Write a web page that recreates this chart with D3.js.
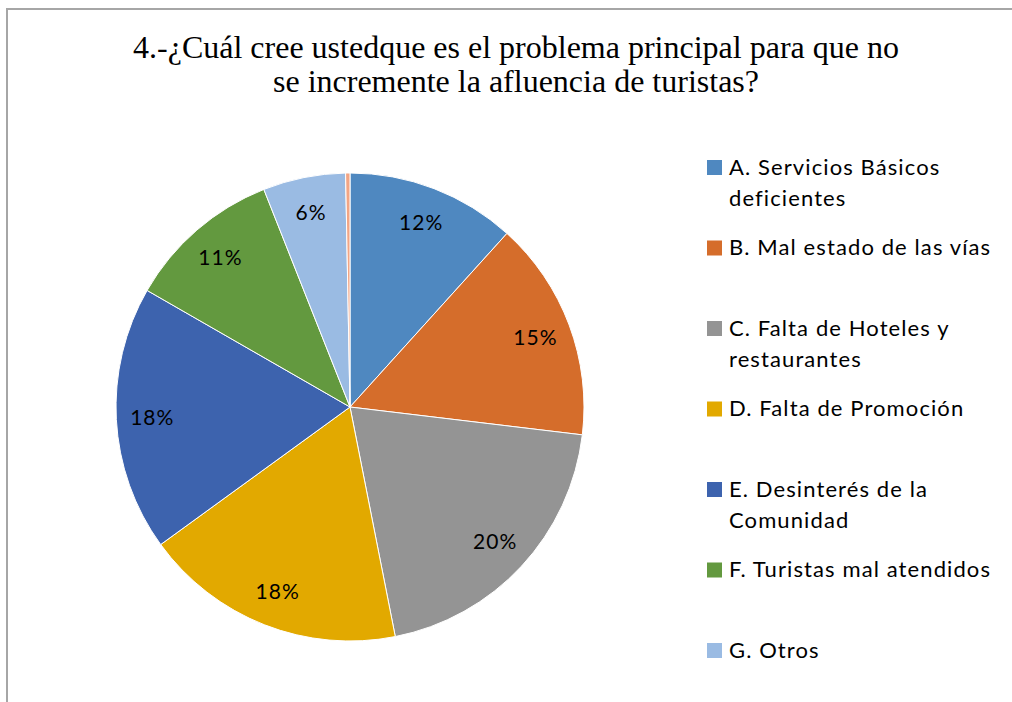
<!DOCTYPE html>
<html><head><meta charset="utf-8">
<script src="https://cdn.jsdelivr.net/npm/d3@7"></script>
<style>body{margin:0;background:#fff}svg{display:block}</style>
</head><body>
<svg id="c" width="1012" height="702"></svg>
<script>
const categories = ["A. Servicios Básicos deficientes","B. Mal estado de las vías","C. Falta de Hoteles y restaurantes","D. Falta de Promoción","E. Desinterés de la Comunidad","F. Turistas mal atendidos","G. Otros","H"];
const legendLines = [["A. Servicios Básicos","deficientes"],["B. Mal estado de las vías"],["C. Falta de Hoteles y","restaurantes"],["D. Falta de Promoción"],["E. Desinterés de la","Comunidad"],["F. Turistas mal atendidos"],["G. Otros"]];
const values = [11.7, 15.2, 20.0, 18.1, 18.3, 10.7, 5.7, 0.3];
const labels = ["12%","15%","20%","18%","18%","11%","6%",""];
const colors = ["#4f88c0","#d56d2b","#949494","#e2a900","#3d63ae","#63993f","#9abbe3","#f2a585"];
const titleLines = ["4.-¿Cuál cree ustedque es el problema principal para que no","se incremente la afluencia de turistas?"];

const svg = d3.select("#c");
svg.append("rect").attr("x",7).attr("y",9).attr("width",1100).attr("height",800)
  .attr("fill","#fff").attr("stroke","#a6a6a6").attr("stroke-width",2);

svg.selectAll("text.title").data(titleLines).join("text").attr("class","title")
  .attr("x",516).attr("y",(d,i)=>58+i*34).attr("text-anchor","middle")
  .attr("font-family","'Liberation Serif', 'Times New Roman', serif").attr("font-size",32)
  .attr("fill","#000").text(d=>d);

const cx=350, cy=407, R=234;
const pie = d3.pie().sort(null).value(d=>d)(values);
const arc = d3.arc().innerRadius(0).outerRadius(R);
const labelArc = d3.arc().innerRadius(198).outerRadius(198);
const g = svg.append("g").attr("transform",`translate(${cx},${cy})`);
g.selectAll("path").data(pie).join("path").attr("d",arc)
  .attr("fill",(d,i)=>colors[i]).attr("stroke","#fff").attr("stroke-width",1);
g.selectAll("text").data(pie).join("text")
  .attr("transform",d=>`translate(${labelArc.centroid(d)})`)
  .attr("text-anchor","middle").attr("dy","0.35em")
  .attr("font-family","Lato, 'Open Sans', sans-serif").attr("font-size",21).attr("letter-spacing",1)
  .attr("fill","#000")
  .text((d,i)=>labels[i]);

const lg = svg.append("g");
const items = lg.selectAll("g").data(legendLines).join("g")
  .attr("transform",(d,i)=>`translate(707,${167+i*80.5})`);
items.append("rect").attr("x",0).attr("y",-7).attr("width",15).attr("height",15).attr("fill",(d,i)=>colors[i]);
items.each(function(d){
  d3.select(this).selectAll("text").data(d).join("text")
    .attr("x",22).attr("y",(t,j)=>j*31).attr("dy","0.35em")
    .attr("font-family","Lato, 'Open Sans', sans-serif").attr("font-size",22).attr("letter-spacing",1.1)
    .attr("fill","#000")
    .text(t=>t);
});
</script>
</body></html>
